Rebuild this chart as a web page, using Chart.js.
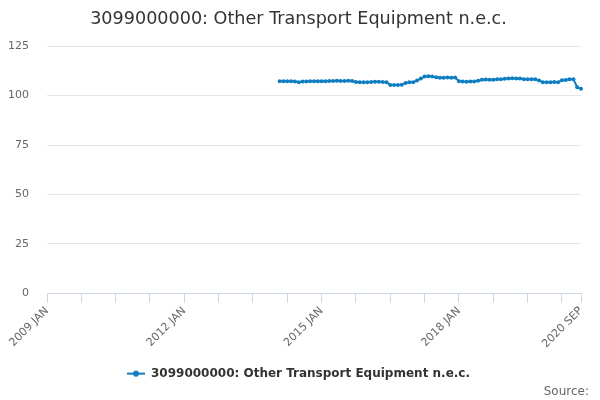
<!DOCTYPE html>
<html>
<head>
<meta charset="utf-8">
<script src="https://cdn.jsdelivr.net/npm/chart.js@4.4.0/dist/chart.umd.min.js"></script>
<style>
  html, body { margin: 0; padding: 0; background: #fff; }
  #wrap { width: 600px; height: 400px; }
</style>
</head>
<body>
<div id="wrap"><canvas id="chart" width="600" height="400"></canvas></div>
<script>
const seriesName = '3099000000: Other Transport Equipment n.e.c.';
const monthNames = ['JAN', 'FEB', 'MAR', 'APR', 'MAY', 'JUN', 'JUL', 'AUG', 'SEP', 'OCT', 'NOV', 'DEC'];
const years = [2009, 2010, 2011, 2012, 2013, 2014, 2015, 2016, 2017, 2018, 2019, 2020];
const lastLabel = '2020 SEP';
const seriesStart = '2014 FEB';
const labeledTicks = ['2009 JAN', '2012 JAN', '2015 JAN', '2018 JAN', '2020 SEP'];
const tickEvery = 9; // tick marks every 9 months
const yTicks = [0, 25, 50, 75, 100, 125];

// monthly index values, 2014 FEB .. 2020 SEP
const seriesValues = [
  107.2, 107.2, 107.2, 107.2, 107.1, 106.8, 107.1, 107.1, 107.2, 107.3, 107.3,
  107.3, 107.3, 107.4, 107.4, 107.5, 107.4, 107.4, 107.5, 107.4, 106.9,
  106.7, 106.7, 106.8, 106.9, 107.0, 107.0, 106.9, 106.8, 105.4, 105.3,
  105.3, 105.5, 106.4, 106.7, 106.8, 107.6, 108.6, 109.6, 109.8, 109.7,
  109.3, 109.0, 109.0, 109.1, 109.0, 109.1, 107.3, 107.1, 107.0, 107.1,
  107.1, 107.5, 108.0, 108.1, 108.0, 108.0, 108.3, 108.3, 108.5, 108.6,
  108.7, 108.6, 108.6, 108.3, 108.2, 108.3, 108.2, 107.6, 106.8, 106.7,
  106.8, 106.9, 106.8, 107.8, 107.9, 108.2, 108.3, 104.2, 103.4
];

// build month categories
const labels = [];
for (const y of years) {
  for (const m of monthNames) {
    if (labels[labels.length - 1] === lastLabel) break;
    labels.push(y + ' ' + m);
  }
}
const startIdx = labels.indexOf(seriesStart);
const points = seriesValues.map((v, i) => ({ x: labels[startIdx + i], y: v }));

const lineColor = '#0e7dc2';

// legend marker: short line with a dot
const marker = document.createElement('canvas');
marker.width = 18;
marker.height = 8;
const mctx = marker.getContext('2d');
mctx.strokeStyle = lineColor;
mctx.lineWidth = 2;
mctx.beginPath();
mctx.moveTo(0, 4);
mctx.lineTo(18, 4);
mctx.stroke();
mctx.fillStyle = lineColor;
mctx.beginPath();
mctx.arc(9, 4, 3, 0, Math.PI * 2);
mctx.fill();

const font = "'DejaVu Sans', Verdana, sans-serif";

new Chart(document.getElementById('chart'), {
  type: 'line',
  data: {
    labels: labels,
    datasets: [{
      label: seriesName,
      data: points,
      borderColor: lineColor,
      backgroundColor: lineColor,
      borderWidth: 2,
      pointRadius: 2,
      pointBorderWidth: 0,
      tension: 0,
      spanGaps: false
    }]
  },
  options: {
    responsive: false,
    animation: false,
    layout: { padding: { left: 8, right: 11, top: 0, bottom: 1 } },
    plugins: {
      title: {
        display: true,
        text: seriesName,
        color: '#333333',
        font: { family: font, size: 17.6, weight: 'normal' },
        padding: { top: 9, bottom: 16 }
      },
      subtitle: {
        display: true,
        text: 'Source:',
        position: 'bottom',
        align: 'end',
        color: '#666666',
        font: { family: font, size: 12, weight: 'normal' },
        padding: { top: -5, bottom: 0 }
      },
      legend: {
        position: 'bottom',
        labels: {
          usePointStyle: true,
          pointStyleWidth: 18,
          color: '#333333',
          font: { family: font, size: 12, weight: 'bold' },
          padding: 3,
          generateLabels: chart => Chart.defaults.plugins.legend.labels.generateLabels(chart)
            .map(item => Object.assign(item, { pointStyle: marker }))
        }
      },
      tooltip: { enabled: false }
    },
    scales: {
      x: {
        type: 'category',
        offset: false,
        border: { display: true, color: '#ccd6eb', width: 1 },
        grid: {
          drawOnChartArea: false,
          drawTicks: true,
          tickLength: 9,
          color: ctx => (ctx.index % tickEvery === 0 || ctx.index === labels.length - 1) ? '#ccd6eb' : 'rgba(0,0,0,0)'
        },
        ticks: {
          autoSkip: false,
          minRotation: 45,
          maxRotation: 45,
          color: '#666666',
          font: { family: font, size: 11 },
          padding: 2,
          callback: function (value) {
            const l = this.getLabelForValue(value);
            return labeledTicks.includes(l) ? l : '';
          }
        },
        afterFit: scale => {
          scale.paddingLeft = 0;
          scale.paddingRight = 19;
          scale.height += 12;
        }
      },
      y: {
        min: yTicks[0],
        max: yTicks[yTicks.length - 1],
        afterBuildTicks: axis => { axis.ticks = yTicks.map(v => ({ value: v })); },
        afterFit: axis => { axis.width = 39; },
        border: { display: false },
        grid: { color: '#e6e6e6', drawTicks: false },
        ticks: {
          color: '#666666',
          font: { family: font, size: 11 },
          padding: 18
        }
      }
    }
  }
});
</script>
</body>
</html>
